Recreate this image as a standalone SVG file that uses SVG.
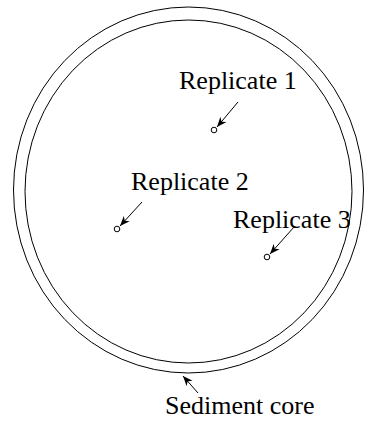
<svg xmlns="http://www.w3.org/2000/svg" width="371" height="423" viewBox="0 0 371 423">
<defs>
<marker id="ah" viewBox="0 0 10 10" refX="10" refY="5" markerWidth="10" markerHeight="10" markerUnits="userSpaceOnUse" orient="auto">
<path d="M0,1 L10,5 L0,9 L3,5 Z" fill="#000"/>
</marker>
</defs>
<style>
.lbl{font-family:"Liberation Serif","Times New Roman",serif;font-size:26px;fill:#000}
.ring{fill:none;stroke:#000;stroke-width:1}
.pt{fill:#fff;stroke:#000;stroke-width:1}
.arr{stroke:#000;stroke-width:1;fill:none;marker-end:url(#ah)}
</style>
<rect width="371" height="423" fill="#fff"/>
<g id="core">
<ellipse class="ring" cx="188.5" cy="190" rx="175" ry="183"/>
<ellipse class="ring" cx="188.5" cy="191.5" rx="163.5" ry="171.5"/>
</g>
<g id="rep1">
<circle class="pt" cx="214" cy="130" r="2.8"/>
<text class="lbl" x="179" y="89">Replicate 1</text>
</g>
<g id="rep2">
<circle class="pt" cx="117" cy="229" r="2.8"/>
<text class="lbl" x="131" y="190">Replicate 2</text>
</g>
<g id="rep3">
<circle class="pt" cx="267" cy="257" r="2.8"/>
<text class="lbl" x="233" y="228">Replicate 3</text>
</g>
<g id="sediment">
<text class="lbl" x="165" y="414">Sediment core</text>
</g>
<g id="connectors">
<line class="arr" x1="238" y1="102" x2="217" y2="127"/>
<line class="arr" x1="142" y1="202" x2="120" y2="226"/>
<line class="arr" x1="294" y1="227" x2="270" y2="254"/>
<line class="arr" x1="198" y1="393" x2="183" y2="376"/>
</g>
</svg>
